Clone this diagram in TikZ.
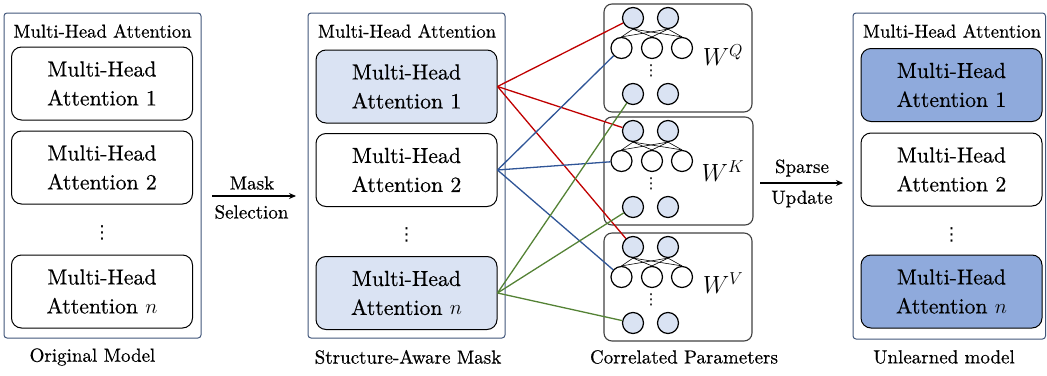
\documentclass[tikz,border=0pt]{standalone}
\usepackage{fontspec}
\setmainfont{lmroman10-regular.otf}[FakeBold=0.5,ItalicFont=lmroman10-italic.otf,BoldFont=lmroman10-bold.otf]
\newfontfamily\dejavu{DejaVu Sans}
\usetikzlibrary{arrows.meta}
\definecolor{framec}{HTML}{41567A}
\definecolor{lightb}{HTML}{DAE3F3}
\definecolor{darkb}{HTML}{8FAADC}
\definecolor{redc}{HTML}{C00000}
\definecolor{bluec}{HTML}{2F5597}
\definecolor{greenc}{HTML}{548235}
\definecolor{pbox}{HTML}{404040}
\begin{document}
\begin{tikzpicture}[x=1pt,y=-1pt,
  outerbox/.style={draw=framec,line width=1pt,rounded corners=3pt},
  headbox/.style={draw=black,line width=1pt,rounded corners=10pt,minimum width=181pt,minimum height=73pt,align=center,inner sep=0pt,font=\fontsize{21.8}{29}\selectfont},
  titletext/.style={font=\fontsize{18.7}{22}\selectfont,inner sep=0pt},
  labeltext/.style={font=\fontsize{19}{22}\selectfont,inner sep=0pt},
  dotstext/.style={font=\dejavu\fontsize{18}{20}\selectfont,inner sep=0pt},
  parambox/.style={draw=pbox,line width=1.1pt,rounded corners=8pt},
  neuronA/.style={circle,draw=black,line width=1.2pt,fill=lightb,minimum size=21pt,inner sep=0pt},
  neuronB/.style={circle,draw=black,line width=1.2pt,fill=white,minimum size=21pt,inner sep=0pt},
  wire/.style={line width=0.6pt},
  redl/.style={draw=redc,line width=1.3pt},
  bluel/.style={draw=bluec,line width=1.3pt},
  greenl/.style={draw=greenc,line width=1.3pt},
  flowarrow/.style={line width=1.6pt,-{Stealth[length=7pt,width=6pt]}}
]
\useasboundingbox (0,0) rectangle (1047,375);

% ---- Original model ----
\draw[outerbox] (4,13) rectangle (201,338);
\node[titletext] (ta) at (102.5,31) {Multi-Head Attention};
\node[headbox] (a1) at (102,83.5) {Multi-Head\\Attention 1};
\node[headbox] (a2) at (102,167.5) {Multi-Head\\Attention 2};
\node[dotstext] (ad) at (102,233) {⋮};
\node[headbox] (an) at (102,291.5) {Multi-Head\\Attention $n$};
\node[labeltext] (la) at (92.5,357) {Original Model};

% ---- arrow Mask Selection ----
\coordinate (m0) at (212,196);
\coordinate (m1) at (296,196);
\draw[flowarrow] (m0) -- (m1);
\node[labeltext] (mask) at (252,183) {Mask};
\node[labeltext] (sel) at (251.5,212) {Selection};

% ---- Structure-aware mask ----
\draw[outerbox] (308,13) rectangle (505,338);
\node[titletext] (tb) at (407,31) {Multi-Head Attention};
\node[headbox,fill=lightb] (b1) at (406.5,86.5) {Multi-Head\\Attention 1};
\node[headbox] (b2) at (406.5,170) {Multi-Head\\Attention 2};
\node[dotstext] (bd) at (406.5,235) {⋮};
\node[headbox,fill=lightb] (bn) at (406.5,293) {Multi-Head\\Attention $n$};
\node[labeltext] (lb) at (408,357) {Structure-Aware Mask};

% ---- Parameter boxes ----
\foreach \nm/\T/\R/\lab/\dy in {q/4/752/Q/51, k/117/753/K/54, v/233/752/V/50}{
  \draw[parambox] (604,\T) rectangle (\R,\T+108);
  \node[neuronA] (\nm1) at (633,\T+14) {};
  \node[neuronA] (\nm2) at (668,\T+14) {};
  \node[neuronB] (\nm3) at (621.5,\T+44) {};
  \node[neuronB] (\nm4) at (652,\T+44) {};
  \node[neuronB] (\nm5) at (682,\T+44) {};
  \node[dotstext,font=\dejavu\fontsize{15}{18}\selectfont] (\nm d) at (651,\T+67) {⋮};
  \node[neuronA] (\nm6) at (633,\T+90) {};
  \node[neuronA] (\nm7) at (668,\T+90) {};
  \node[inner sep=0pt,font=\fontsize{23}{26}\selectfont] (\nm w) at (723,\T+\dy) {$W^{\lab}$};
  \foreach \u in {1,2}{
    \foreach \l in {3,4,5}{
      \draw[wire] (\nm\u.south) -- (\nm\l.north);
    }
  }
}
\node[labeltext] (lc) at (684,357) {Correlated Parameters};

% ---- colored connections ----
\draw[redl] (b1.east) -- (q1);
\draw[redl] (b1.east) -- (k1);
\draw[redl] (b1.east) -- (v1);
\draw[bluel] (b2.east) -- (q3);
\draw[bluel] (b2.east) -- (k3);
\draw[bluel] (b2.east) -- (v3);
\draw[greenl] (bn.east) -- (q6);
\draw[greenl] (bn.east) -- (k6);
\draw[greenl] (bn.east) -- (v6);

% ---- arrow Sparse Update ----
\coordinate (s0) at (760,183);
\coordinate (s1) at (843,183);
\draw[flowarrow] (s0) -- (s1);
\node[labeltext] (sp) at (802,168) {Sparse};
\node[labeltext] (up) at (802,199) {Update};

% ---- Unlearned model ----
\draw[outerbox] (853,13) rectangle (1045.5,339);
\node[titletext] (td) at (952,31) {Multi-Head Attention};
\node[headbox,fill=darkb] (d1) at (951.5,85) {Multi-Head\\Attention 1};
\node[headbox] (d2) at (951.5,169.5) {Multi-Head\\Attention 2};
\node[dotstext] (dd) at (951.5,235) {⋮};
\node[headbox,fill=darkb] (dn) at (951.5,291.5) {Multi-Head\\Attention $n$};
\node[labeltext] (ld) at (944,357) {Unlearned model};
\end{tikzpicture}
\end{document}
